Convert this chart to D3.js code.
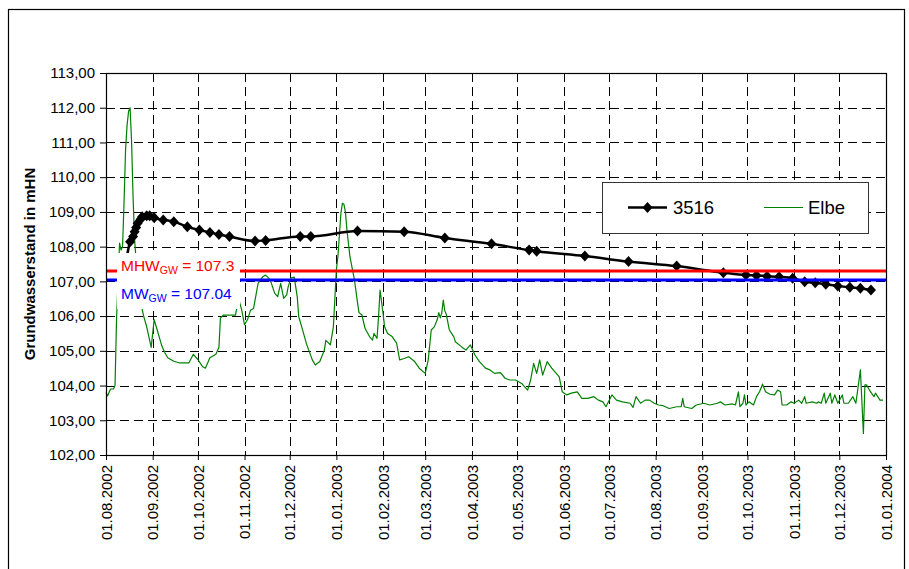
<!DOCTYPE html>
<html>
<head>
<meta charset="utf-8">
<script src="https://cdn.jsdelivr.net/npm/d3@7"></script>
<style>
  body { margin: 0; background: #fff; }
  svg text { font-family: Arial, "Liberation Sans", sans-serif; }
</style>
</head>
<body>
<svg id="chart" width="909" height="569"></svg>
<script>
// ---- data ----------------------------------------------------------------
const yTicks = [102, 103, 104, 105, 106, 107, 108, 109, 110, 111, 112, 113];

const xTickDates = [
  "2002-08-01", "2002-09-01", "2002-10-01", "2002-11-01", "2002-12-01",
  "2003-01-01", "2003-02-01", "2003-03-01", "2003-04-01", "2003-05-01",
  "2003-06-01", "2003-07-01", "2003-08-01", "2003-09-01", "2003-10-01",
  "2003-11-01", "2003-12-01", "2004-01-01"
];

// reference levels of the groundwater
const mhwGW = 107.3;
const mwGW = 107.04;

// observation well 3516
const well3516 = [
  ["2002-08-13", 107.2], ["2002-08-17", 108.14], ["2002-08-19", 108.29],
  ["2002-08-20", 108.43], ["2002-08-21", 108.55], ["2002-08-22", 108.67],
  ["2002-08-24", 108.79], ["2002-08-25", 108.86], ["2002-08-28", 108.89],
  ["2002-08-30", 108.89], ["2002-09-02", 108.83], ["2002-09-08", 108.77],
  ["2002-09-15", 108.72], ["2002-09-24", 108.57], ["2002-10-02", 108.48],
  ["2002-10-09", 108.41], ["2002-10-15", 108.35], ["2002-10-22", 108.29],
  ["2002-11-08", 108.16], ["2002-11-15", 108.18], ["2002-12-08", 108.29],
  ["2002-12-15", 108.29], ["2003-01-15", 108.45], ["2003-02-15", 108.43],
  ["2003-03-14", 108.25], ["2003-04-14", 108.08], ["2003-05-09", 107.90],
  ["2003-05-14", 107.87], ["2003-06-15", 107.73], ["2003-07-14", 107.57],
  ["2003-08-15", 107.44], ["2003-09-15", 107.25], ["2003-09-30", 107.18],
  ["2003-10-07", 107.17], ["2003-10-14", 107.15], ["2003-10-22", 107.13],
  ["2003-10-31", 107.09], ["2003-11-08", 106.99], ["2003-11-15", 106.96],
  ["2003-11-22", 106.92], ["2003-11-30", 106.87], ["2003-12-08", 106.83],
  ["2003-12-15", 106.80], ["2003-12-22", 106.75]
];

// Elbe water level
const elbe = [
  ["2002-08-01", 103.8], ["2002-08-02", 103.7], ["2002-08-04", 103.9], ["2002-08-06", 103.9],
  ["2002-08-07", 104.0], ["2002-08-08", 105.9], ["2002-08-10", 108.1], ["2002-08-11", 107.9],
  ["2002-08-12", 108.0], ["2002-08-13", 109.3], ["2002-08-14", 110.8], ["2002-08-15", 111.5],
  ["2002-08-16", 111.9], ["2002-08-17", 112.0], ["2002-08-18", 111.0], ["2002-08-19", 109.4],
  ["2002-08-20", 108.2], ["2002-08-21", 107.6], ["2002-08-22", 107.1], ["2002-08-23", 106.7],
  ["2002-08-24", 106.4], ["2002-08-25", 106.2], ["2002-08-26", 106.0], ["2002-08-28", 105.7],
  ["2002-08-30", 105.3], ["2002-08-31", 105.1], ["2002-09-02", 105.9], ["2002-09-04", 105.6],
  ["2002-09-06", 105.3], ["2002-09-07", 105.15], ["2002-09-09", 104.95], ["2002-09-11", 104.8],
  ["2002-09-15", 104.7], ["2002-09-19", 104.65], ["2002-09-25", 104.65], ["2002-09-28", 104.9],
  ["2002-10-01", 104.75], ["2002-10-04", 104.55], ["2002-10-06", 104.5], ["2002-10-09", 104.8],
  ["2002-10-13", 104.9], ["2002-10-15", 105.1], ["2002-10-16", 105.95], ["2002-10-18", 106.03],
  ["2002-10-26", 106.03], ["2002-10-28", 106.5], ["2002-10-30", 106.2], ["2002-11-01", 105.75],
  ["2002-11-03", 105.9], ["2002-11-05", 106.17], ["2002-11-07", 106.22], ["2002-11-10", 106.94],
  ["2002-11-13", 107.13], ["2002-11-15", 107.18], ["2002-11-18", 107.05], ["2002-11-21", 106.66],
  ["2002-11-23", 106.56], ["2002-11-25", 106.94], ["2002-11-27", 106.51], ["2002-11-29", 106.61],
  ["2002-11-30", 106.85], ["2002-12-02", 107.1], ["2002-12-04", 107.12], ["2002-12-06", 106.56],
  ["2002-12-07", 105.98], ["2002-12-09", 105.69], ["2002-12-12", 105.22], ["2002-12-16", 104.74],
  ["2002-12-18", 104.59], ["2002-12-21", 104.69], ["2002-12-24", 105.02], ["2002-12-25", 105.3],
  ["2002-12-28", 105.17], ["2002-12-30", 105.69], ["2003-01-01", 107.33], ["2003-01-02", 107.71],
  ["2003-01-04", 108.96], ["2003-01-05", 109.25], ["2003-01-06", 109.22], ["2003-01-07", 109.0],
  ["2003-01-08", 108.48], ["2003-01-10", 107.71], ["2003-01-13", 107.04], ["2003-01-15", 106.4],
  ["2003-01-16", 106.1], ["2003-01-18", 106.03], ["2003-01-20", 105.65], ["2003-01-23", 105.41],
  ["2003-01-25", 105.31], ["2003-01-26", 105.5], ["2003-01-28", 105.36], ["2003-01-29", 105.98],
  ["2003-01-30", 106.75], ["2003-02-01", 106.08], ["2003-02-02", 105.69], ["2003-02-04", 105.5],
  ["2003-02-07", 105.41], ["2003-02-10", 105.22], ["2003-02-12", 104.74], ["2003-02-15", 104.78],
  ["2003-02-18", 104.83], ["2003-02-22", 104.69], ["2003-02-25", 104.5], ["2003-03-01", 104.35],
  ["2003-03-03", 104.74], ["2003-03-05", 105.6], ["2003-03-07", 105.69], ["2003-03-09", 105.9],
  ["2003-03-10", 106.1], ["2003-03-11", 105.95], ["2003-03-12", 106.1], ["2003-03-13", 106.46],
  ["2003-03-14", 106.15], ["2003-03-15", 106.05], ["2003-03-17", 105.6], ["2003-03-20", 105.4],
  ["2003-03-21", 105.26], ["2003-03-25", 105.12], ["2003-03-28", 105.02], ["2003-03-31", 105.17],
  ["2003-04-03", 104.88], ["2003-04-06", 104.69], ["2003-04-10", 104.5], ["2003-04-13", 104.45],
  ["2003-04-16", 104.35], ["2003-04-20", 104.37], ["2003-04-23", 104.21], ["2003-04-26", 104.16],
  ["2003-04-30", 104.16], ["2003-05-04", 104.06], ["2003-05-08", 103.87], ["2003-05-10", 104.16],
  ["2003-05-12", 104.64], ["2003-05-14", 104.35], ["2003-05-16", 104.74], ["2003-05-18", 104.3],
  ["2003-05-21", 104.69], ["2003-05-24", 104.5], ["2003-05-27", 104.35], ["2003-05-29", 104.25],
  ["2003-05-31", 103.82], ["2003-06-03", 103.73], ["2003-06-06", 103.78], ["2003-06-10", 103.82],
  ["2003-06-13", 103.63], ["2003-06-17", 103.63], ["2003-06-21", 103.68], ["2003-06-24", 103.58],
  ["2003-06-27", 103.53], ["2003-06-29", 103.39], ["2003-07-03", 103.73], ["2003-07-06", 103.58],
  ["2003-07-10", 103.53], ["2003-07-15", 103.49], ["2003-07-17", 103.37], ["2003-07-19", 103.68],
  ["2003-07-22", 103.49], ["2003-07-25", 103.58], ["2003-07-28", 103.58], ["2003-07-31", 103.49],
  ["2003-08-03", 103.44], ["2003-08-06", 103.42], ["2003-08-10", 103.34], ["2003-08-15", 103.39],
  ["2003-08-18", 103.39], ["2003-08-19", 103.63], ["2003-08-20", 103.39], ["2003-08-25", 103.34],
  ["2003-08-28", 103.44], ["2003-09-02", 103.49], ["2003-09-06", 103.44], ["2003-09-11", 103.49],
  ["2003-09-13", 103.53], ["2003-09-16", 103.44], ["2003-09-21", 103.47], ["2003-09-23", 103.44],
  ["2003-09-25", 103.82], ["2003-09-26", 103.39], ["2003-09-28", 103.49], ["2003-09-29", 103.73],
  ["2003-09-30", 103.44], ["2003-10-02", 103.53], ["2003-10-05", 103.44], ["2003-10-07", 103.68],
  ["2003-10-09", 103.82], ["2003-10-11", 104.04], ["2003-10-13", 103.82], ["2003-10-16", 103.75],
  ["2003-10-19", 103.73], ["2003-10-21", 103.87], ["2003-10-23", 103.82], ["2003-10-24", 103.44],
  ["2003-10-27", 103.44], ["2003-10-30", 103.53], ["2003-11-01", 103.49], ["2003-11-04", 103.58],
  ["2003-11-06", 103.49], ["2003-11-08", 103.68], ["2003-11-09", 103.49], ["2003-11-13", 103.53],
  ["2003-11-16", 103.49], ["2003-11-17", 103.53], ["2003-11-19", 103.49], ["2003-11-21", 103.78],
  ["2003-11-22", 103.49], ["2003-11-25", 103.78], ["2003-11-26", 103.49], ["2003-11-28", 103.73],
  ["2003-11-30", 103.49], ["2003-12-03", 103.73], ["2003-12-04", 103.49], ["2003-12-07", 103.49],
  ["2003-12-10", 103.68], ["2003-12-12", 103.49], ["2003-12-15", 104.45], ["2003-12-17", 102.62],
  ["2003-12-18", 104.02], ["2003-12-19", 104.02], ["2003-12-21", 103.87], ["2003-12-24", 103.68],
  ["2003-12-25", 103.78], ["2003-12-28", 103.58], ["2003-12-30", 103.58]
];

// ---- layout --------------------------------------------------------------
const plot = { left: 106, right: 886, top: 73, bottom: 455 };
const parse = d3.utcParse("%Y-%m-%d");
const fmtDate = d3.utcFormat("%d.%m.%Y");
const fmtNum = v => d3.format(".2f")(v).replace(".", ",");

const x = d3.scaleUtc()
  .domain([parse(xTickDates[0]), parse(xTickDates[xTickDates.length - 1])])
  .range([plot.left, plot.right]);
const y = d3.scaleLinear()
  .domain([yTicks[0], yTicks[yTicks.length - 1]])
  .range([plot.bottom, plot.top]);

const svg = d3.select("#chart");
svg.append("rect").attr("width", 909).attr("height", 569).attr("fill", "#fff");

// outer chart frame
svg.append("rect")
  .attr("x", 8.5).attr("y", 9.5).attr("width", 896).attr("height", 600)
  .attr("fill", "none").attr("stroke", "#000").attr("stroke-width", 1.2);

// ---- grid ----------------------------------------------------------------
const grid = svg.append("g").attr("stroke", "#000").attr("stroke-width", 1)
  .attr("stroke-dasharray", "9,5").attr("shape-rendering", "crispEdges");
grid.selectAll("line.h").data(yTicks.slice(1, -1)).join("line")
  .attr("x1", plot.left).attr("x2", plot.right)
  .attr("y1", d => Math.round(y(d)) + 0.5).attr("y2", d => Math.round(y(d)) + 0.5);
grid.selectAll("line.v").data(xTickDates.slice(1, -1)).join("line")
  .attr("x1", d => Math.round(x(parse(d))) + 0.5).attr("x2", d => Math.round(x(parse(d))) + 0.5)
  .attr("y1", plot.top).attr("y2", plot.bottom);

// ---- series --------------------------------------------------------------
const elbeLine = d3.line().x(d => x(parse(d[0]))).y(d => y(d[1]));
svg.append("path").datum(elbe)
  .attr("d", elbeLine)
  .attr("fill", "none").attr("stroke", "#008000").attr("stroke-width", 1.2)
  .attr("stroke-linejoin", "round");

const wellLine = d3.line().curve(d3.curveMonotoneX)
  .x(d => x(parse(d[0]))).y(d => y(d[1]));
svg.append("path").datum(well3516)
  .attr("d", wellLine)
  .attr("fill", "none").attr("stroke", "#000").attr("stroke-width", 2.5);

const diamond = "M0,-5.5L5,0L0,5.5L-5,0Z";
svg.append("g").selectAll("path").data(well3516).join("path")
  .attr("transform", d => `translate(${x(parse(d[0]))},${y(d[1])})`)
  .attr("d", diamond).attr("fill", "#000");

// reference lines
svg.append("line")
  .attr("x1", plot.left).attr("x2", plot.right)
  .attr("y1", y(mhwGW)).attr("y2", y(mhwGW))
  .attr("stroke", "#ff0000").attr("stroke-width", 3);
svg.append("line")
  .attr("x1", plot.left).attr("x2", plot.right)
  .attr("y1", y(mwGW)).attr("y2", y(mwGW))
  .attr("stroke", "#0000ff").attr("stroke-width", 3);

// plot area border
svg.append("rect")
  .attr("x", plot.left + 0.5).attr("y", plot.top + 0.5)
  .attr("width", plot.right - plot.left).attr("height", plot.bottom - plot.top)
  .attr("fill", "none").attr("stroke", "#000").attr("stroke-width", 1.2);

// ---- axes ----------------------------------------------------------------
const yAxis = svg.append("g")
  .attr("transform", `translate(${plot.left},0)`)
  .call(d3.axisLeft(y).tickValues(yTicks).tickSize(6).tickPadding(5).tickFormat(fmtNum));
yAxis.select(".domain").remove();
yAxis.selectAll("line").attr("stroke", "#000");
yAxis.selectAll("text").attr("font-size", 15).attr("fill", "#000")
  .attr("font-family", "Arial, 'Liberation Sans', sans-serif");

const xAxis = svg.append("g")
  .attr("transform", `translate(0,${plot.bottom})`)
  .call(d3.axisBottom(x).tickValues(xTickDates.map(parse)).tickSize(5).tickFormat(fmtDate));
xAxis.select(".domain").remove();
xAxis.selectAll("line").attr("stroke", "#000");
xAxis.selectAll("text")
  .attr("font-size", 15).attr("fill", "#000")
  .attr("font-family", "Arial, 'Liberation Sans', sans-serif")
  .attr("transform", "rotate(-90)")
  .attr("text-anchor", "end")
  .attr("x", -10).attr("y", 0).attr("dy", "0.35em");

// y axis title
svg.append("text")
  .attr("transform", `translate(35,${(plot.top + plot.bottom) / 2}) rotate(-90)`)
  .attr("text-anchor", "middle")
  .attr("font-size", 15).attr("font-weight", "bold")
  .text("Grundwasserstand in mHN");

// ---- reference level labels --------------------------------------------
svg.append("rect")
  .attr("x", 117).attr("y", 253).attr("width", 123).attr("height", 56)
  .attr("fill", "#fff");

function levelLabel(name, value, color, baseline) {
  const t = svg.append("text").attr("x", 121).attr("y", baseline)
    .attr("font-size", 15.5).attr("fill", color);
  t.append("tspan").text(name);
  t.append("tspan").attr("font-size", 10.5).attr("dy", 3).text("GW");
  t.append("tspan").attr("dy", -3).text(" = " + value);
}
levelLabel("MHW", mhwGW, "#ff0000", 271);
levelLabel("MW", mwGW, "#0000ff", 299);

// ---- legend ------------------------------------------------------------
const legend = svg.append("g");
legend.append("rect")
  .attr("x", 602.5).attr("y", 182.5).attr("width", 266).attr("height", 51)
  .attr("fill", "#fff").attr("stroke", "#333").attr("stroke-width", 1);
legend.append("line").attr("x1", 628).attr("x2", 667).attr("y1", 207.5).attr("y2", 207.5)
  .attr("stroke", "#000").attr("stroke-width", 2.5);
legend.append("path").attr("transform", "translate(647.5,207.5)").attr("d", diamond).attr("fill", "#000");
legend.append("text").attr("x", 673).attr("y", 214).attr("font-size", 18.5).text("3516");
legend.append("line").attr("x1", 764).attr("x2", 803).attr("y1", 207.5).attr("y2", 207.5)
  .attr("stroke", "#008000").attr("stroke-width", 1.2);
legend.append("text").attr("x", 808).attr("y", 214).attr("font-size", 18.5).text("Elbe");
</script>
</body>
</html>
